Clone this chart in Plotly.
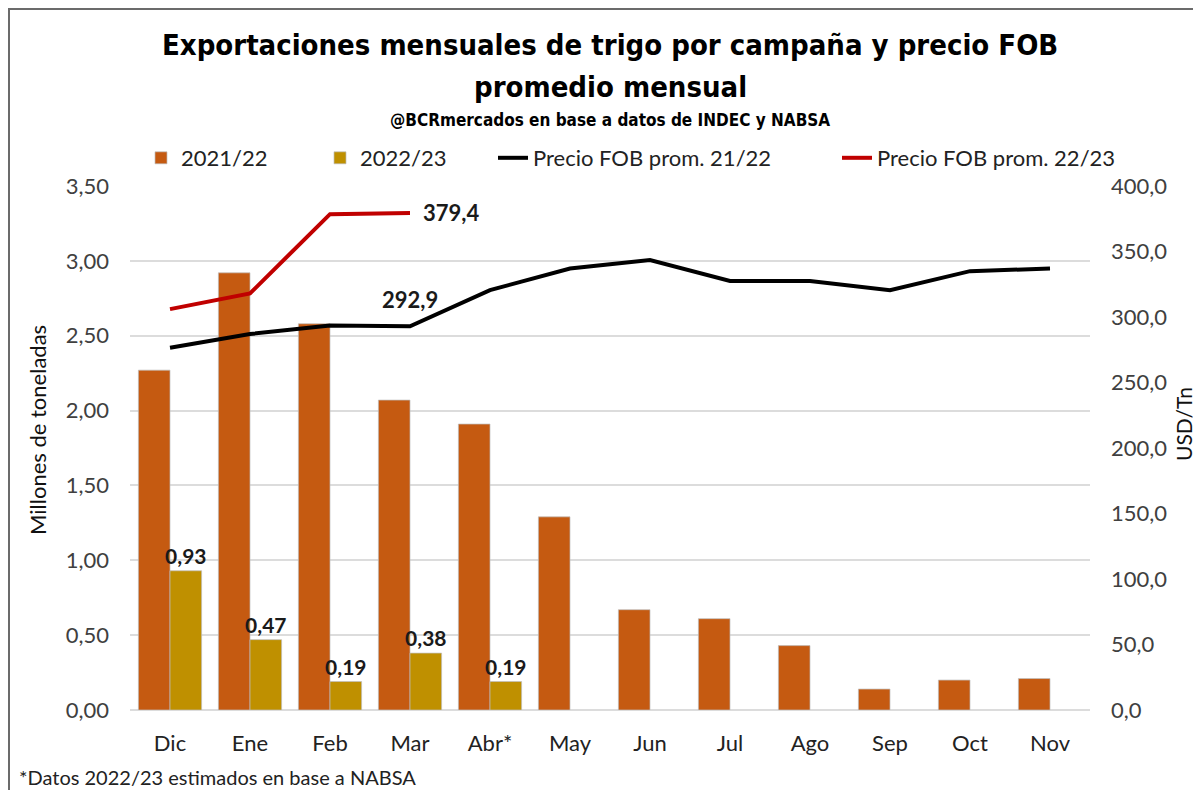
import plotly.graph_objects as go

months = ["Dic", "Ene", "Feb", "Mar", "Abr*", "May", "Jun", "Jul", "Ago", "Sep", "Oct", "Nov"]
exp_2122 = [2.27, 2.92, 2.58, 2.07, 1.91, 1.29, 0.67, 0.61, 0.43, 0.14, 0.20, 0.21]
exp_2223 = [0.93, 0.47, 0.19, 0.38, 0.19, None, None, None, None, None, None, None]
fob_2122 = [276.5, 287.0, 293.5, 292.9, 320.5, 337.0, 343.5, 327.5, 327.5, 320.5, 335.0, 337.0]
fob_2223 = [306.0, 318.0, 378.5, 379.4]

OFF = 8                      # page offset of the figure (body margin)
W, H = 1201 - OFF, 790 - OFF
# plot area in page coordinates
L, R, T, B = 130, 1090, 186, 710


def px(x):
    return (x - L) / (R - L)


def py(y):
    return (B - y) / (B - T)


FONT = "Lato"
TFONT = "DejaVu Sans Condensed, Liberation Sans Narrow, Arial Narrow, sans-serif"


def lab(v, d):
    return None if v is None else f"{v:.{d}f}".replace(".", ",")


fig = go.Figure()
fig.add_trace(go.Bar(
    x=months, y=exp_2122, name="2021/22",
    marker=dict(color="#C55A11", line=dict(color="rgba(190,190,190,0.7)", width=1)),
    offsetgroup="a", legend="legend",
))
fig.add_trace(go.Bar(
    x=months, y=exp_2223, name="2022/23",
    marker=dict(color="#BF9000", line=dict(color="rgba(190,190,190,0.7)", width=1)),
    offsetgroup="b", legend="legend2",
    text=[lab(v, 2) for v in exp_2223],
    textposition="outside", constraintext="none",
    textfont=dict(family=FONT, size=21, color="#1a1a1a", weight="bold"),
    cliponaxis=False,
))
fig.add_trace(go.Scatter(
    x=months, y=fob_2122, name="Precio FOB prom. 21/22", mode="lines",
    line=dict(color="#000000", width=4), yaxis="y2", legend="legend3",
))
fig.add_trace(go.Scatter(
    x=months[:len(fob_2223)], y=fob_2223, name="Precio FOB prom. 22/23", mode="lines",
    line=dict(color="#C00000", width=4), yaxis="y2", legend="legend4",
))

fig.add_annotation(x=months[3], y=fob_2223[3], yref="y2", text=lab(fob_2223[3], 1),
                   showarrow=False, xanchor="left", yanchor="middle", xshift=11, yshift=0,
                   font=dict(family=FONT, size=22, color="#1a1a1a", weight="bold"))
fig.add_annotation(x=months[3], y=fob_2122[3], yref="y2", text=lab(fob_2122[3], 1),
                   showarrow=False, xanchor="center", yanchor="middle", yshift=27,
                   font=dict(family=FONT, size=22, color="#1a1a1a", weight="bold"))


def note(x, y, text, font, **kw):
    fig.add_annotation(xref="paper", yref="paper", x=px(x), y=py(y), text=text, showarrow=False,
                       xanchor=kw.pop("xanchor", "center"), yanchor="middle", font=font, **kw)


# titles
note(610, 45, "Exportaciones mensuales de trigo por campaña y precio FOB",
     dict(family=TFONT, size=29, color="#000", weight="bold"))
note(610, 87, "promedio mensual", dict(family=TFONT, size=29, color="#000", weight="bold"))
note(610, 120, "@BCRmercados en base a datos de INDEC y NABSA",
     dict(family=TFONT, size=17, color="#000", weight="bold"))
note(17, 777, "*Datos 2022/23 estimados en base a NABSA", dict(family=FONT, size=20, color="#222"),
     xanchor="left")

# axis titles
note(37, 430, "Millones de toneladas", dict(family=FONT, size=22, color="#111"), textangle=-90)
note(1183, 424, "USD/Tn", dict(family=FONT, size=21, color="#111"), textangle=-90)

# frame
fig.add_shape(type="line", xref="paper", yref="paper", x0=px(9), x1=px(9), y0=py(8), y1=py(800),
              line=dict(color="#6b6b6b", width=2))
fig.add_shape(type="line", xref="paper", yref="paper", x0=px(8), x1=px(1210), y0=py(9), y1=py(9),
              line=dict(color="#6b6b6b", width=2))

leg_font = dict(family=FONT, size=22, color="#222")
text_starts = [178, 357, 533, 877]
sym_off = [37, 37, 40, 40]
legs = {}
for i, (ts, so) in enumerate(zip(text_starts, sym_off)):
    key = "legend" if i == 0 else f"legend{i+1}"
    legs[key] = dict(x=px(ts - so), y=py(158), xanchor="left", yanchor="middle", orientation="h",
                     font=leg_font, bgcolor="rgba(0,0,0,0)", itemwidth=30)

fig.update_layout(
    width=W, height=H,
    margin=dict(l=L - OFF, r=W - (R - OFF), t=T - OFF, b=H - (B - OFF)),
    paper_bgcolor="white", plot_bgcolor="white",
    separators=",.",
    barmode="group", bargap=0.21, bargroupgap=0.0,
    font=dict(family=FONT, size=21, color="#404040"),
    xaxis=dict(tickfont=dict(size=22, color="#222"), showline=False, ticks="", showgrid=False,
               ticklabelstandoff=18),
    yaxis=dict(range=[0, 3.5], dtick=0.5, tickformat=".2f", showgrid=True, gridcolor="#DCDCDC", gridwidth=1.5,
               zeroline=True, zerolinecolor="#DCDCDC", zerolinewidth=1.5,
               tickfont=dict(size=22, color="#404040"), ticklabelstandoff=20),
    yaxis2=dict(range=[0, 400], dtick=50, tickformat=".1f", overlaying="y", side="right", showgrid=False,
                zeroline=False, tickfont=dict(size=22, color="#404040"), ticklabelstandoff=20),
    showlegend=True,
    **legs,
)

fig.write_html("out.html")
